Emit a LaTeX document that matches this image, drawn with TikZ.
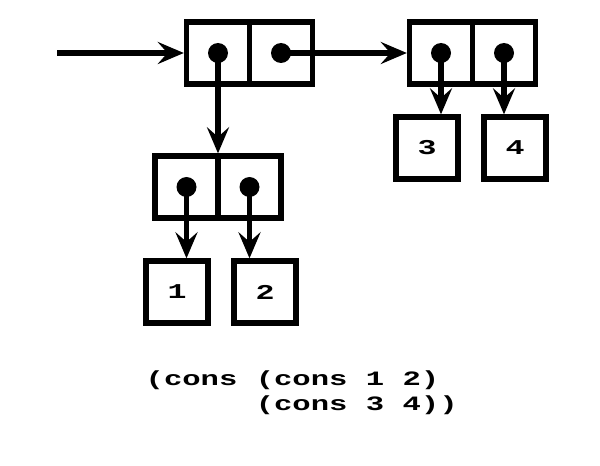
\documentclass[tikz,border=0pt]{standalone}
\usepackage{fontspec}
\usepackage{tikz}
\usetikzlibrary{arrows.meta, calc}
\newfontfamily\lispfont[FakeStretch=1.5]{Liberation Mono}

\begin{document}
\begin{tikzpicture}[x=0.025cm, y=-0.025cm, line width=3.8pt,
  half/.style={draw, minimum width=1.575cm, minimum height=1.55cm, inner sep=0pt},
  atom/.style={draw, minimum width=1.55cm, minimum height=1.55cm, inner sep=0pt,
    font=\lispfont\bfseries\fontsize{15}{15}\selectfont},
  ptr/.style={-{Stealth[length=6.5mm, width=5.5mm, inset=2.4mm]}}]

  \useasboundingbox (0, 0) rectangle (600, 466);

  % outer cons cell
  \node[half] (acar) at (218, 53) {};
  \node[half] (acdr) at (281, 53) {};

  % (cons 3 4)
  \node[half] (bcar) at (441, 53) {};
  \node[half] (bcdr) at (504, 53) {};

  % (cons 1 2)
  \node[half] (ccar) at (186.5, 187) {};
  \node[half] (ccdr) at (249.5, 187) {};

  \node[atom] (one) at (177, 292) {1};
  \node[atom] (two) at (265, 292) {2};
  \node[atom] (three) at (427, 148) {3};
  \node[atom] (four) at (515, 148) {4};

  \coordinate (start) at (57, 53);

  \foreach \c in {acar, acdr, bcar, bcdr, ccar, ccdr} {
    \fill (\c.center) circle (10);
  }

  \draw[ptr] (start) -- (acar.west);
  \draw[ptr] (acdr.center) -- (bcar.west);
  \draw[ptr] (acar.center) -- (acar.center |- ccar.north);
  \draw[ptr] (bcar.center) -- (bcar.center |- three.north);
  \draw[ptr] (bcdr.center) -- (bcdr.center |- four.north);
  \draw[ptr] (ccar.center) -- (ccar.center |- one.north);
  \draw[ptr] (ccdr.center) -- (ccdr.center |- two.north);

  \node[anchor=north west, align=left, inner sep=0pt,
    font=\lispfont\bfseries\fontsize{14.5}{17.7}\selectfont] (expr) at (143, 368)
    {(cons (cons 1 2)\\\hphantom{(cons\ }(cons 3 4))};

\end{tikzpicture}
\end{document}
